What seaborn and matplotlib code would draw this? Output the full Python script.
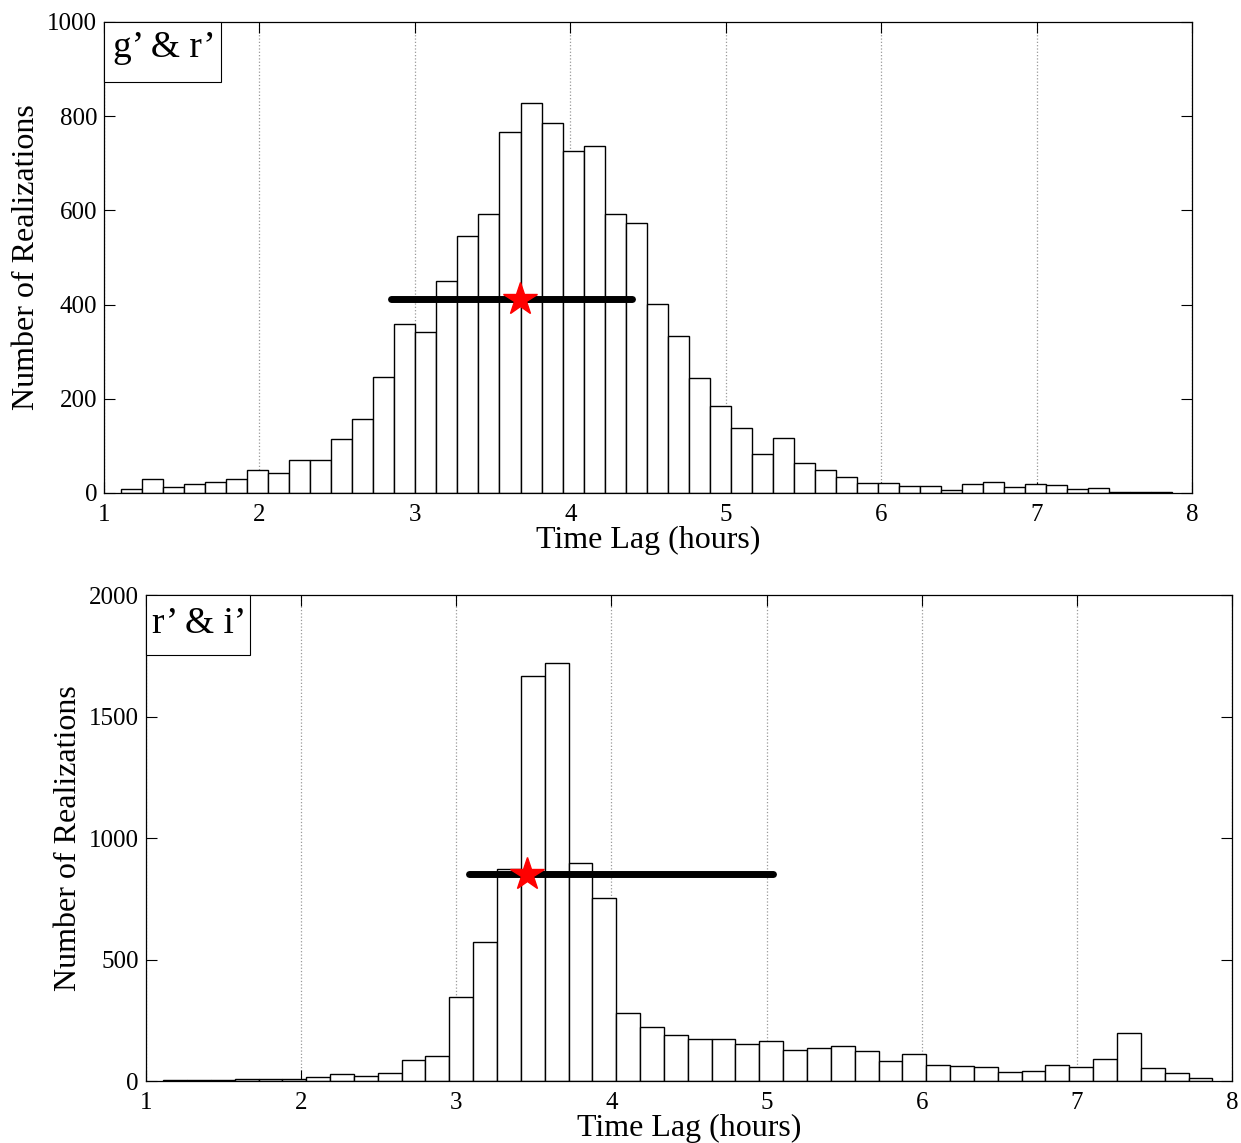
import numpy as np
import pandas as pd
import matplotlib
matplotlib.use('Agg')
import matplotlib.pyplot as plt
import matplotlib.patches as mpatches
import seaborn as sns

# Histogram counts (g' & r' panel, 50 bins)
gr_bin_start = 1.111
gr_bin_width = 0.1352
gr_counts = [8, 30, 13, 18, 24, 29, 49, 42, 69, 69, 114, 157, 247, 359, 342,
             450, 546, 593, 767, 827, 786, 725, 737, 592, 573, 401, 334, 244,
             185, 139, 82, 117, 63, 49, 33, 22, 21, 14, 15, 6, 18, 24, 13, 18,
             17, 8, 10, 2, 2, 3]
gr_mean = 3.677
gr_range = [2.847, 4.398]
gr_level = 412

# r' & i' panel, 44 bins
ri_bin_start = 1.111
ri_bin_width = 0.1537
ri_counts = [4, 4, 3, 8, 8, 10, 15, 29, 21, 32, 86, 104, 346, 572, 874, 1668,
             1719, 897, 752, 282, 224, 191, 174, 173, 154, 166, 129, 137, 145,
             122, 82, 112, 67, 63, 56, 37, 41, 64, 59, 92, 199, 55, 35, 14]
ri_mean = 3.456
ri_range = [3.085, 5.04]
ri_level = 852

panels = [
    dict(label="g\u2019 & r\u2019", start=gr_bin_start, width=gr_bin_width,
         counts=gr_counts, mean=gr_mean, rng=gr_range, level=gr_level,
         yticks=[0, 200, 400, 600, 800, 1000], ylim=(0, 1000),
         pos=[0.0838, 0.5687, 0.8767, 0.4121],
         box=(0.1075, 0.1274), text_xy=(0.008, 0.945)),
    dict(label="r\u2019 & i\u2019", start=ri_bin_start, width=ri_bin_width,
         counts=ri_counts, mean=ri_mean, rng=ri_range, level=ri_level,
         yticks=[0, 500, 1000, 1500, 2000], ylim=(0, 2000),
         pos=[0.1176, 0.0542, 0.8751, 0.4252],
         box=(0.0958, 0.1235), text_xy=(0.006, 0.94)),
]

sns.set_theme(style='white')
plt.rcParams['font.family'] = ['Liberation Serif', 'DejaVu Serif']
plt.rcParams['text.color'] = 'black'
plt.rcParams['axes.labelcolor'] = 'black'

fig = plt.figure(figsize=(12.41, 11.43), dpi=100)

for p in panels:
    ax = fig.add_axes(p['pos'])
    n = len(p['counts'])
    edges = p['start'] + p['width'] * np.arange(n + 1)
    df = pd.DataFrame({'lag': (edges[:-1] + edges[1:]) / 2,
                       'count': p['counts']})
    sns.histplot(data=df, x='lag', weights='count', bins=list(edges),
                 color='white', edgecolor='black', linewidth=1.0,
                 alpha=1, ax=ax)

    # mean marker and spread bar
    ax.plot(p['rng'], [p['level'], p['level']], color='black', lw=5,
            solid_capstyle='round', zorder=4)
    ax.plot([p['mean']], [p['level']], marker='*', color='red', ms=25,
            mec='red', zorder=5)

    ax.set_xlim(1, 8)
    ax.set_ylim(*p['ylim'])
    ax.set_xticks(range(1, 9))
    ax.set_yticks(p['yticks'])
    ax.xaxis.grid(True, linestyle=':', color='#999999', lw=0.9)
    ax.yaxis.grid(False)
    ax.set_axisbelow(True)
    ax.tick_params(direction='in', length=8, width=0.8, colors='black',
                   labelsize=18, top=True, right=True, bottom=True,
                   left=True)
    ax.tick_params(axis='x', pad=8)
    ax.tick_params(axis='y', pad=5)
    for s in ax.spines.values():
        s.set_color('black')
        s.set_linewidth(0.9)
    ax.set_xlabel('Time Lag (hours)', fontsize=23, labelpad=0)
    ax.set_ylabel('Number of Realizations', fontsize=23, labelpad=4)

    # legend-like label box in the upper left corner
    bw, bh = p['box']
    ax.add_patch(mpatches.Rectangle((0, 1 - bh), bw, bh, transform=ax.transAxes,
                                    fc='white', ec='black', lw=0.8, zorder=6,
                                    clip_on=False))
    ax.text(p['text_xy'][0], p['text_xy'][1], p['label'],
            transform=ax.transAxes, fontsize=27, ha='left', va='center',
            zorder=7)

fig.savefig('out.png', dpi=100)
